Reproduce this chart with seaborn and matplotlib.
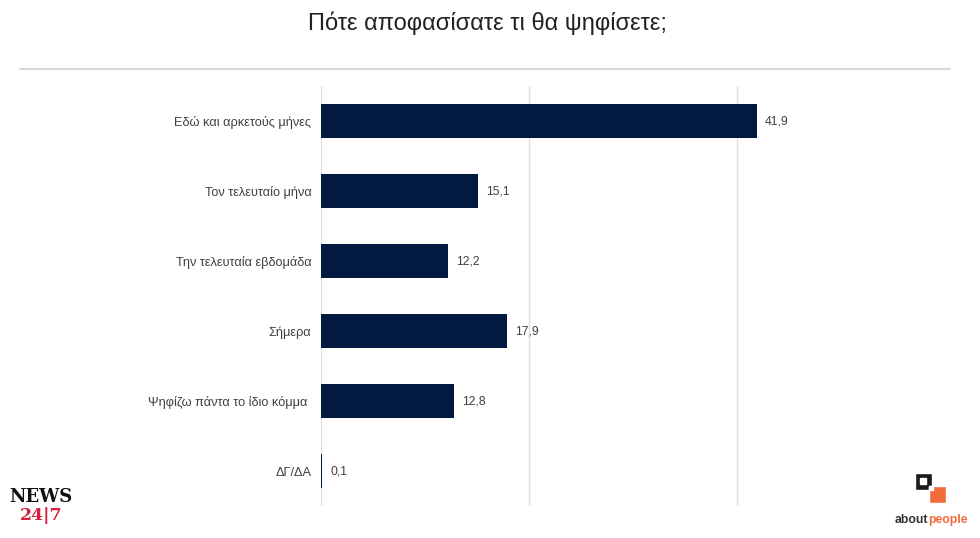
import matplotlib
matplotlib.use("Agg")
import matplotlib.pyplot as plt
import seaborn as sns
import pandas as pd
from matplotlib.patches import Rectangle

categories = ["Εδώ και αρκετούς μήνες", "Τον τελευταίο μήνα", "Την τελευταία εβδομάδα",
              "Σήμερα", "Ψηφίζω πάντα το ίδιο κόμμα ", "ΔΓ/ΔΑ"]
values = [41.9, 15.1, 12.2, 17.9, 12.8, 0.1]
value_labels = ["41,9", "15,1", "12,2", "17,9", "12,8", "0,1"]
title = "Πότε αποφασίσατε τι θα ψηφίσετε;"

sns.set_theme(style="white")
plt.rcParams['font.family'] = ['Liberation Sans', 'DejaVu Sans']

df = pd.DataFrame({"cat": categories, "val": values})

fig = plt.figure(figsize=(9.8, 5.38), dpi=100)
ax = fig.add_axes([321/980, 1-506/538, (945-321)/980, (506-86)/538])
sns.barplot(data=df, y="cat", x="val", color="#031a40", saturation=1, width=0.49, ax=ax,
            zorder=3, linewidth=0, edgecolor="none")
ax.set_xlim(0, 60)
ax.set_ylim(5.5, -0.5)
ax.set_xticks([0, 20, 40])
ax.xaxis.grid(True, color="#dedede", linewidth=1)
ax.yaxis.grid(False)
ax.tick_params(axis="x", bottom=False, labelbottom=False)
ax.tick_params(axis="y", left=False, length=0, pad=7, labelsize=9.2, labelcolor="#404040")
for s in ax.spines.values():
    s.set_visible(False)
ax.set_xlabel("")
ax.set_ylabel("")

for i, (v, lab) in enumerate(zip(values, value_labels)):
    ax.annotate(lab, (v, i), xytext=(6, 0), textcoords="offset points",
                va="center", ha="left", fontsize=8.8, color="#404040")

fig.text(487/980, 1-23/538, title, ha="center", va="center", fontsize=17, color="#222222")
fig.add_artist(plt.Line2D([20/980, 950/980], [1-69/538, 1-69/538], color="#d9d9d9", linewidth=1.5))

# NEWS 24/7 logo
fig.text(41/980, 1-497/538, "NEWS", ha="center", va="center", fontsize=13, fontweight="bold",
         family=["DejaVu Serif"], color="#111111")
fig.text(41/980, 1-516/538, "24|7", ha="center", va="center", fontsize=12.5, fontweight="bold",
         family=["DejaVu Serif"], color="#d81e3c")

# aboutpeople logo
fig.add_artist(Rectangle((915/980, 1-490/538), 17/980, 17/538, facecolor="#1a1a1a", transform=fig.transFigure))
fig.add_artist(Rectangle((920/980, 1-484/538), 6/980, 6/538, facecolor="white", transform=fig.transFigure))
fig.add_artist(Rectangle((929/980, 1-503/538), 17/980, 17/538, facecolor="#f26b3a", transform=fig.transFigure))
fig.add_artist(Rectangle((929/980, 1-490/538), 4/980, 4/538, facecolor="white", transform=fig.transFigure))
fig.text(928/980, 1-520/538, "about", ha="right", va="center", fontsize=8.8, fontweight="bold", color="#333333")
fig.text(928/980, 1-520/538, "people", ha="left", va="center", fontsize=8.8, fontweight="bold", color="#f26b3a")

fig.savefig("out.png", dpi=100)
